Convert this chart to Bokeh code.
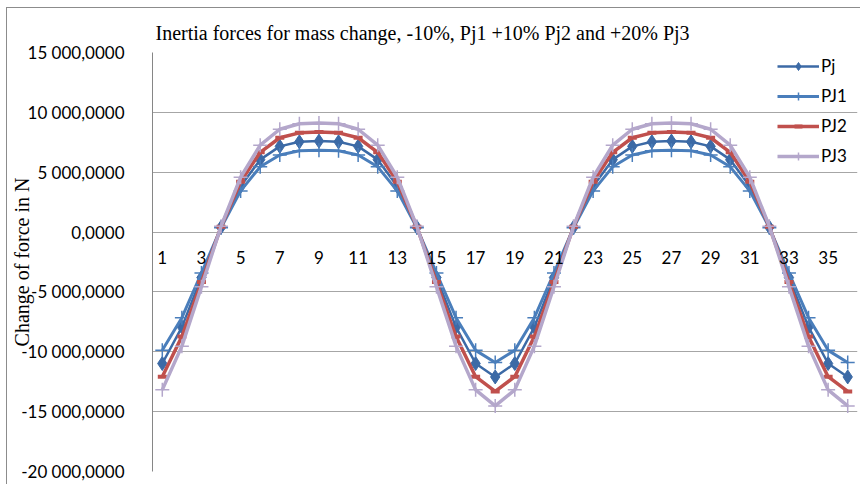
from bokeh.plotting import figure
from bokeh.models import Range1d, FixedTicker, ColumnDataSource, InlineStyleSheet
from bokeh.core.properties import value
from bokeh.embed import file_html
from bokeh.resources import INLINE

TITLE = "Inertia forces  for mass change, -10%, Pj1 +10% Pj2 and +20% Pj3"

categories = list(range(1, 37))

pj = [-10980000, -7940000, -3800000, 400000, 3820000, 6050000, 7160000, 7540000, 7600000,
      7540000, 7160000, 6050000, 3820000, 400000, -3800000, -7940000, -10980000, -12100000,
      -10980000, -7940000, -3800000, 400000, 3820000, 6050000, 7160000, 7540000, 7600000,
      7540000, 7160000, 6050000, 3820000, 400000, -3800000, -7940000, -10980000, -12100000]

pj1 = [-9880000, -7150000, -3420000, 360000, 3440000, 5450000, 6440000, 6790000, 6840000,
       6790000, 6440000, 5450000, 3440000, 360000, -3420000, -7150000, -9880000, -10890000,
       -9880000, -7150000, -3420000, 360000, 3440000, 5450000, 6440000, 6790000, 6840000,
       6790000, 6440000, 5450000, 3440000, 360000, -3420000, -7150000, -9880000, -10890000]

pj2 = [-12080000, -8730000, -4180000, 440000, 4200000, 6660000, 7880000, 8290000, 8360000,
       8290000, 7880000, 6660000, 4200000, 440000, -4180000, -8730000, -12080000, -13310000,
       -12080000, -8730000, -4180000, 440000, 4200000, 6660000, 7880000, 8290000, 8360000,
       8290000, 7880000, 6660000, 4200000, 440000, -4180000, -8730000, -12080000, -13310000]

pj3 = [-13180000, -9530000, -4560000, 480000, 4580000, 7260000, 8590000, 9050000, 9120000,
       9050000, 8590000, 7260000, 4580000, 480000, -4560000, -9530000, -13180000, -14520000,
       -13180000, -9530000, -4560000, 480000, 4580000, 7260000, 8590000, 9050000, 9120000,
       9050000, 8590000, 7260000, 4580000, 480000, -4560000, -9530000, -13180000, -14520000]

x_label_pos = [1, 3, 5, 7, 9, 11, 13, 15, 17, 19, 21, 23, 25, 27, 29, 31, 33, 35]
x_label_text = ["1", "3", "5", "7", "9", "11", "13", "15", "17", "19", "21", "23", "25",
                "27", "29", "31", "33", "35"]

y_ticks = [-20000000, -15000000, -10000000, -5000000, 0, 5000000, 10000000, 15000000]
y_tick_labels = ["-20 000,0000", "-15 000,0000", "-10 000,0000", "-5 000,0000", "0,0000",
                 "5 000,0000", "10 000,0000", "15 000,0000"]

p = figure(width=860, height=484, output_backend="svg", toolbar_location=None,
           x_range=Range1d(0.5, 36.5), y_range=Range1d(-20000000, 15000000),
           x_axis_location=None, min_border_left=152, min_border_right=3,
           min_border_top=52, min_border_bottom=13, title=TITLE)

p.outline_line_color = None
p.background_fill_color = "white"
p.border_fill_color = "white"

# outer chart-area frame: only its top and left edges fall inside the window
p.stylesheets = [InlineStyleSheet(css="""
:host::after {
  content: "";
  position: absolute;
  left: 6px; top: 7px; right: 0; bottom: 0;
  border-top: 1.5px solid #8C8C8C;
  border-left: 1.5px solid #8C8C8C;
  pointer-events: none;
  z-index: 100;
}
""")]

p.title.text_font = "Liberation Serif"
p.title.text_font_size = "20px"
p.title.text_font_style = "normal"
p.title.text_color = "black"
p.title.align = "left"
p.title.offset = 3
p.title.standoff = 18

p.xgrid.visible = False
p.ygrid.grid_line_color = "#A6A6A6"
p.ygrid.grid_line_width = 1

ya = p.yaxis[0]
ya.ticker = FixedTicker(ticks=y_ticks)
ya.major_label_overrides = dict(zip(y_ticks, y_tick_labels))
ya.major_tick_line_color = None
ya.minor_tick_line_color = None
ya.axis_line_color = "#868686"
ya.major_label_standoff = 22
ya.major_label_text_font = "Lato"
ya.major_label_text_font_size = "17px"
ya.major_label_text_color = "black"
ya.axis_label = "Change of force in N"
ya.axis_label_text_font = "Liberation Serif"
ya.axis_label_text_font_size = "20px"
ya.axis_label_text_font_style = "normal"
ya.axis_label_text_color = "black"
ya.axis_label_standoff = -15

src = ColumnDataSource(dict(x=categories, pj=pj, pj1=pj1, pj2=pj2, pj3=pj3))

# Pj
p.line("x", "pj", source=src, line_color="#3C6AA6", line_width=2.5, legend_label="Pj")
p.scatter("x", "pj", source=src, marker="diamond", size=14, fill_color="#3C6AA6",
          line_color="#3C6AA6", legend_label="Pj")
# PJ1
p.line("x", "pj1", source=src, line_color="#4A7EBB", line_width=3, legend_label="PJ1")
p.scatter("x", "pj1", source=src, marker="cross", size=14, line_color="#4A7EBB",
          line_width=1.5, legend_label="PJ1")
# PJ2
p.line("x", "pj2", source=src, line_color="#C0504D", line_width=3.5, legend_label="PJ2")
p.scatter("x", "pj2", source=src, marker="dash", size=9, line_color="#C0504D",
          line_width=4, legend_label="PJ2")
# PJ3
p.line("x", "pj3", source=src, line_color="#B4A7CB", line_width=3.5, legend_label="PJ3")
p.scatter("x", "pj3", source=src, marker="cross", size=14, line_color="#B4A7CB",
          line_width=1.5, legend_label="PJ3")

lab_src = ColumnDataSource(dict(x=x_label_pos, y=[0] * len(x_label_pos), t=x_label_text))
p.text("x", "y", text="t", source=lab_src, text_font=value("Lato"), text_font_size="17px",
       text_color="black", text_align="center", text_baseline="top", y_offset=19)

lg = p.legend[0]
lg.location = (623, 303)
lg.margin = 0
lg.padding = 2
lg.spacing = 9
lg.glyph_width = 42
lg.glyph_height = 20
lg.label_height = 20
lg.label_standoff = 2
lg.label_text_font = "Lato"
lg.label_text_font_size = "17px"
lg.label_text_color = "black"
lg.background_fill_alpha = 0
lg.border_line_alpha = 0

open("out.html", "w").write(file_html(p, INLINE))
